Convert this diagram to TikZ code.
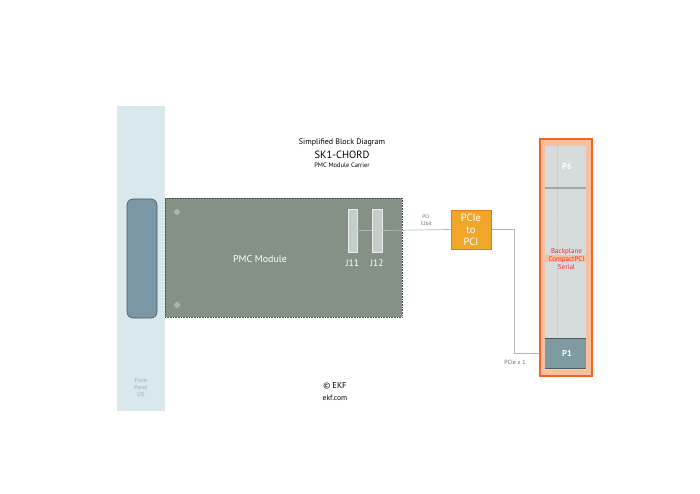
\documentclass[tikz,border=0pt]{standalone}
\usepackage{fontspec}
\setmainfont{PT Sans}
\usetikzlibrary{positioning,calc}
\definecolor{panelblue}{RGB}{217,232,236}
\definecolor{slotblue}{RGB}{123,151,166}
\definecolor{pmcgreen}{RGB}{134,145,134}
\definecolor{jgray}{RGB}{198,204,200}
\definecolor{pciorange}{RGB}{240,166,40}
\definecolor{pciedge}{RGB}{224,123,32}
\definecolor{bporange}{RGB}{242,101,34}
\definecolor{bpsalmon}{RGB}{247,191,156}
\definecolor{bpgray}{RGB}{215,219,220}
\definecolor{ponegray}{RGB}{126,155,161}
\definecolor{bpred}{RGB}{232,48,58}
\definecolor{wiregray}{RGB}{175,185,188}

\begin{document}
\begin{tikzpicture}[x=1pt, y=-1pt, inner sep=0pt,
  jconn/.style={draw=white!60!jgray, fill=jgray, line width=0.8pt, minimum width=9pt, minimum height=43pt},
  hole/.style={circle, draw=pmcgreen!60!black!40!white, fill=pmcgreen!70!white, line width=0.5pt, minimum size=5pt},
  wire/.style={draw=wiregray, line width=0.7pt},
  lbl/.style={text=white, font=\fontsize{9.5}{11}\selectfont}]
\useasboundingbox (0,0) rectangle (700,494);
% front panel
\node[fill=panelblue, minimum width=48pt, minimum height=305pt] (panel) at (141,258.5) {};
\node[draw=slotblue!60!black, fill=slotblue, rounded corners=6pt, minimum width=30pt, minimum height=119pt, line width=0.6pt] (slot) at (142,258.5) {};
\node[text=black!35, align=center, font=\fontsize{5.5}{7}\selectfont] (paneltext) at (141,388) {Front\\Panel\\I/O};
% title
\node[font=\fontsize{8}{9}\selectfont] (title) at (342,143) {Simplified Block Diagram};
\node[font=\fontsize{10.5}{12}\selectfont] (board) at (342,154.5) {SK1-CHORD};
\node[font=\fontsize{6.5}{7}\selectfont] (subtitle) at (342,165) {PMC Module Carrier};
% PMC module
\node[draw=black!70, densely dotted, fill=pmcgreen, minimum width=237pt, minimum height=119pt, line width=0.6pt] (pmc) at (283.5,257.5) {};
\node[hole] (hole1) at (177,212) {};
\node[hole] (hole2) at (177,305) {};
\node[lbl, font=\fontsize{10}{12}\selectfont] (pmctext) at (260,259) {PMC Module};
\node[jconn] (j11) at (352.5,230.5) {};
\node[jconn, minimum width=10pt] (j12) at (377,230.5) {};
\node[lbl, below=7pt of j11] (j11text) {J11};
\node[lbl, below=7pt of j12] (j12text) {J12};
% bridge
\node[draw=pciedge, fill=pciorange, line width=1pt, minimum width=40pt, minimum height=39pt, align=center, text=white, font=\fontsize{10.5}{12}\selectfont] (bridge) at (471,229.5) {PCIe\\to\\PCI};
\node[font=\fontsize{5}{7}\selectfont, text=black!60, align=center] (pcitext) at (426,220) {PCI\\32bit};
% backplane
\node[draw=bporange, fill=bpsalmon, line width=2pt, minimum width=52pt, minimum height=236pt] (bp) at (565.5,257.5) {};
\node[fill=bpgray, minimum width=41pt, minimum height=224pt] (inner) at (565.5,258) {};
\draw[black!20, line width=0.6pt] (557,146) -- (557,338);
\draw[black!15, line width=0.6pt] (545,217) -- (586,217) (545,300) -- (586,300);
\draw[black!35, line width=1.2pt] (545,188) -- (586,188);
\node[fill=ponegray, minimum width=41pt, minimum height=31pt] (p1) at (565.5,353.5) {};
\draw[ponegray!60!black, line width=1pt] (545,338.5) -- (586,338.5) (545,368.5) -- (586,368.5);
\node[lbl, font=\bfseries\fontsize{8.5}{9}\selectfont] (p6text) at (567,167) {P6};
\node[lbl, font=\bfseries\fontsize{8.5}{9}\selectfont] (p1text) at (567,353) {P1};
\fill[bpsalmon] (545,255) rectangle (586,262);
\node[text=bpred, align=center, font=\fontsize{7}{8}\selectfont] (bptext) at (566.5,258.7) {Backplane\\CompactPCI\\Serial};
% links
\draw[wire] (j11.east) -- (j12.west);
\draw[wire] (j12.east) -- (bridge.west);
\coordinate (bend) at (514,353);
\draw[wire] (bridge.east) -| (bend) -- (bend -| bp.west);
\node[font=\fontsize{6}{7}\selectfont, text=black!60] (pcietext) at (515,362) {PCIe x 1};
% footer
\node[font=\fontsize{8.5}{10}\selectfont] (copy) at (335,386) {© EKF};
\node[font=\fontsize{7.5}{9}\selectfont] (web) at (335,398) {ekf.com};
\end{tikzpicture}
\end{document}
